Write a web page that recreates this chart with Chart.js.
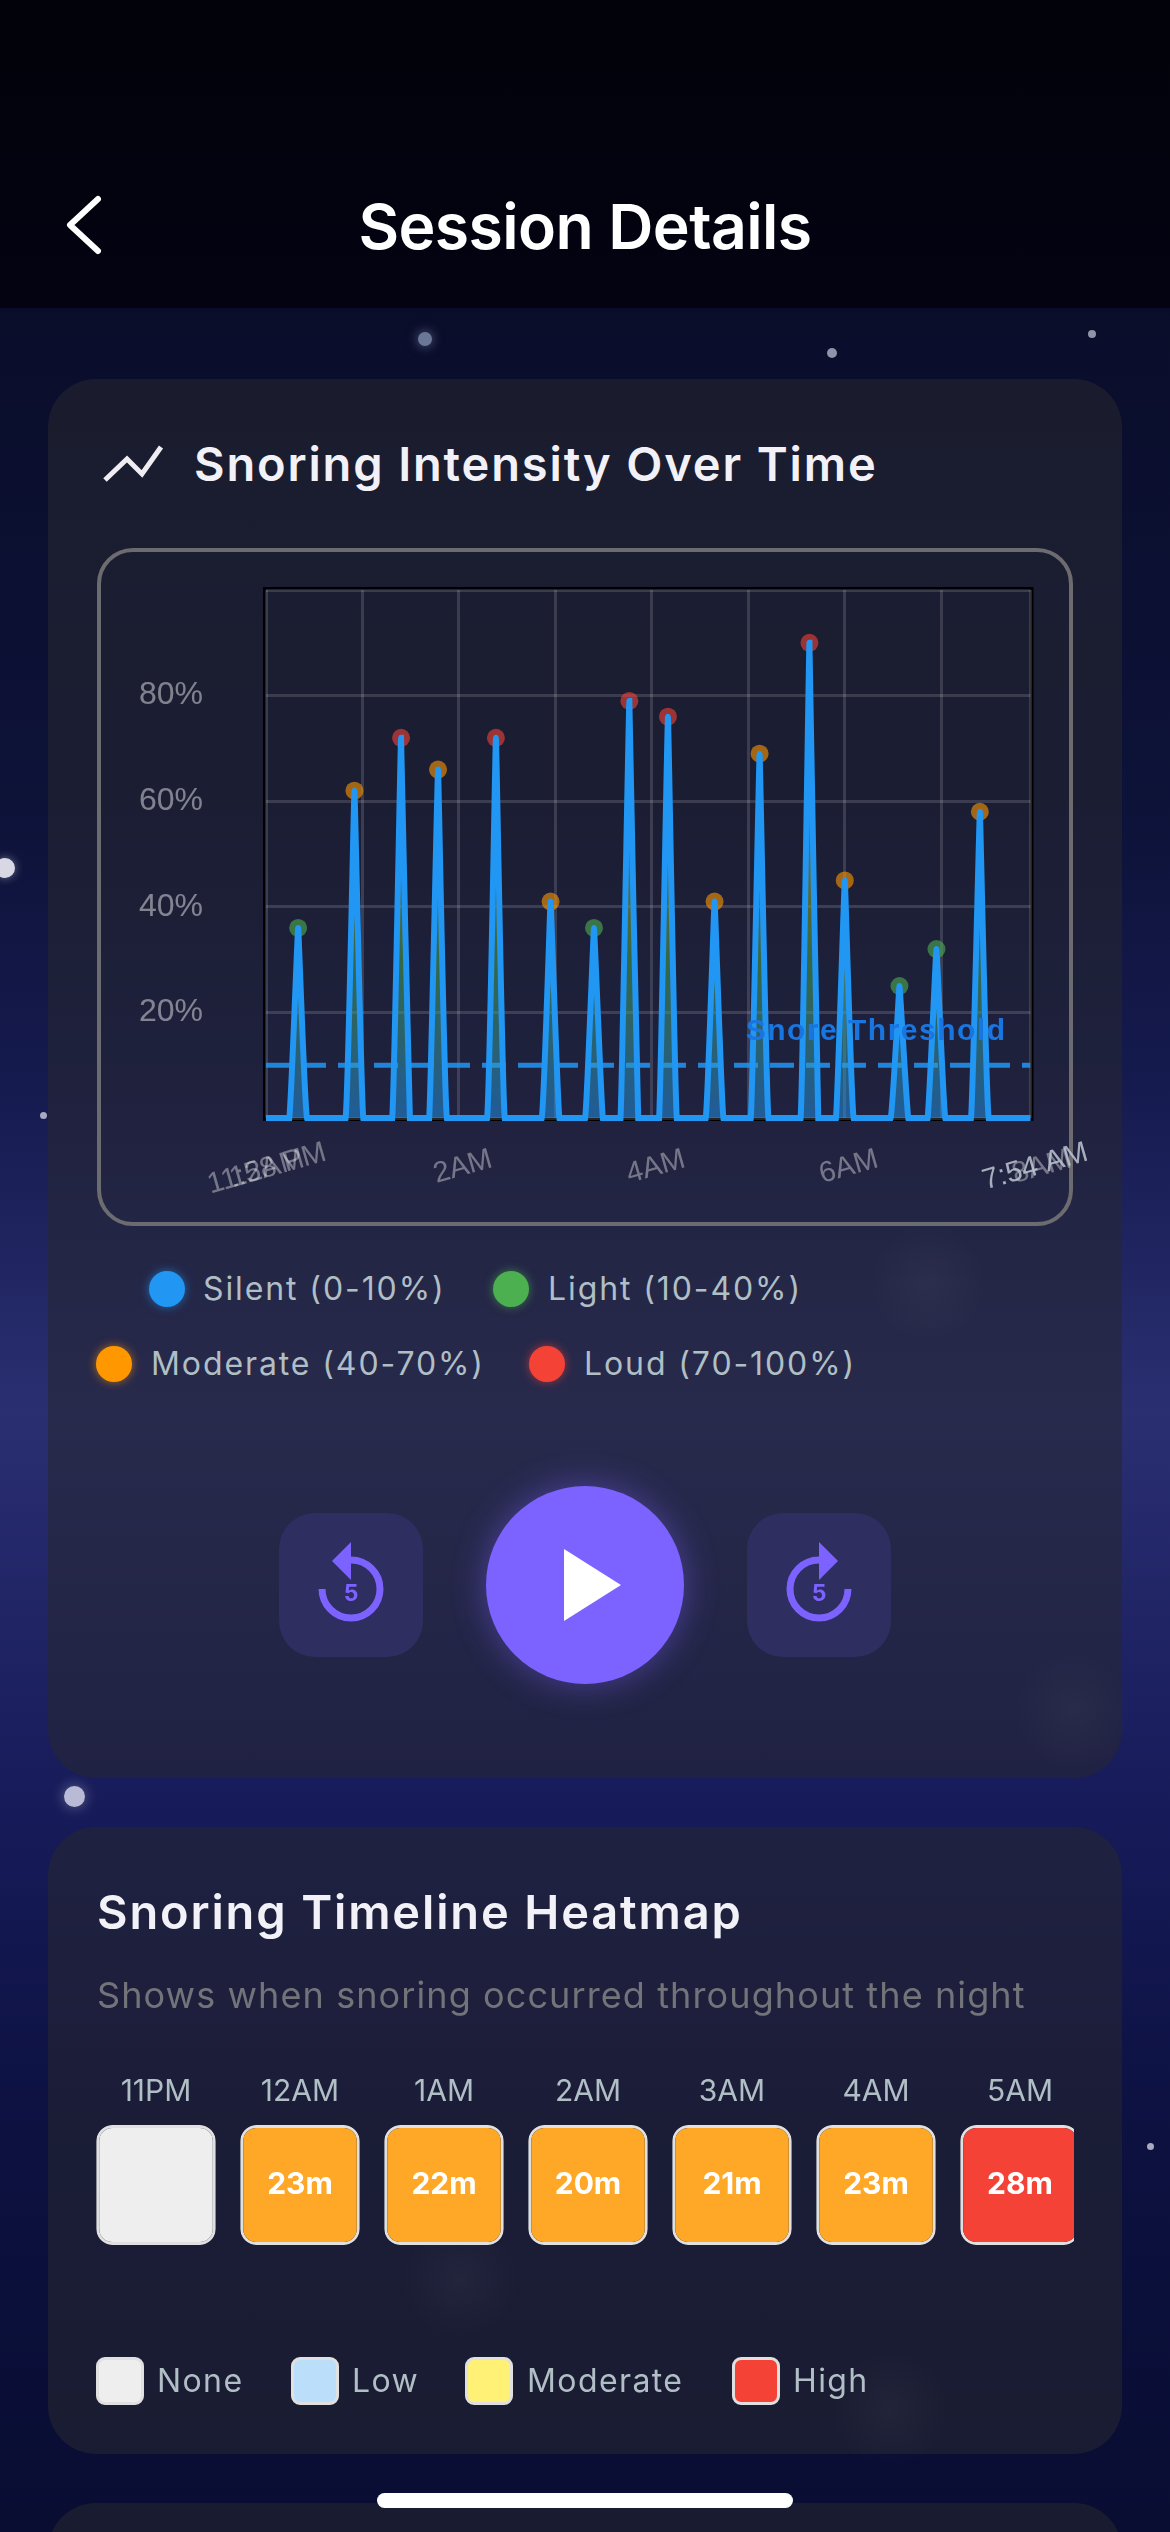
<!DOCTYPE html>
<html>
<head>
<meta charset="utf-8">
<title>Session Details</title>
<script src="https://cdn.jsdelivr.net/npm/chart.js@4/dist/chart.umd.min.js"></script>
<style>
html, body { margin: 0; padding: 0; background: #090d32; }
#page {
    position: relative; width: 1170px; height: 2532px; overflow: hidden;
    font-family: Inter, "Noto Sans", sans-serif; color: #fff;
    background: linear-gradient(180deg, #0a0d2a 308px, #0d1238 800px, #161b50 1100px, #2a2f72 1412px, #171b5a 1800px, #0c1140 2134px, #090d32 2532px);
}
#page > * { position: absolute; }
.header { left: 0; top: 0; width: 1170px; height: 308px; background: linear-gradient(180deg, #02020a, #030312); }
.title { left: 0; width: 1170px; top: 190px; text-align: center; font-size: 62.5px; line-height: 72px; font-weight: 600; letter-spacing: -0.6px; }
.star { border-radius: 50%; }
.blob { width: 120px; height: 120px; border-radius: 50%; background: radial-gradient(circle, rgba(255,255,255,.035), rgba(255,255,255,0) 70%); }
.card { left: 48px; width: 1074px; border-radius: 48px; background: rgba(40, 40, 48, 0.56); }
.frame { left: 97px; top: 548px; width: 968px; height: 670px; border: 4px solid #6c6c70; border-radius: 36px; }
.h2 { font-size: 47px; line-height: 56px; font-weight: 600; color: #f1f1f7; white-space: nowrap; letter-spacing: 1.85px; }
.sub { left: 97px; top: 1972px; font-size: 36px; line-height: 46px; color: #73737a; white-space: nowrap; letter-spacing: 1.1px; }
.lg { font-size: 32px; line-height: 40px; color: #b0bec5; white-space: nowrap; letter-spacing: 1.9px; }
.lg2 { letter-spacing: 1.4px; }
.dot { width: 36px; height: 36px; border-radius: 50%; }
.sw { width: 42px; height: 42px; border: 3px solid #e0e0e0; border-radius: 9px; }
.skip { top: 1513px; width: 144px; height: 144px; border-radius: 36px; background: #2f2e60; }
.play { left: 486px; top: 1486px; width: 198px; height: 198px; border-radius: 50%; background: #7c63ff; box-shadow: 0 0 34px rgba(124, 99, 255, 0.45); }
.home { left: 377px; top: 2493px; width: 416px; height: 15px; border-radius: 8px; background: #fff; }
</style>
</head>
<body>
<div id="page">
    <div class="star" style="left:418px;top:332px;width:14px;height:14px;background:#6b7797;box-shadow:0 0 12px rgba(150,165,210,.6)"></div>
    <div class="star" style="left:827px;top:348px;width:10px;height:10px;background:#8f94a8"></div>
    <div class="star" style="left:1088px;top:330px;width:8px;height:8px;background:#8f94a8"></div>
    <div class="star" style="left:-5px;top:858px;width:20px;height:20px;background:#d8d8e4;box-shadow:0 0 10px rgba(255,255,255,.4)"></div>
    <div class="star" style="left:40px;top:1112px;width:7px;height:7px;background:#a8aac0"></div>
    <div class="star" style="left:64px;top:1786px;width:21px;height:21px;background:#b9bbd6;box-shadow:0 0 14px rgba(255,255,255,.35)"></div>
    <div class="star" style="left:1147px;top:2143px;width:7px;height:7px;background:#a8aac0"></div>

    <div class="header"></div>
    <div class="title">Session Details</div>

    <div class="card" style="top:379px;height:1399px"></div>
    <div class="card" style="top:1827px;height:627px"></div>
    <div class="card" style="top:2503px;height:200px"></div>

    <div class="blob" style="left:868px;top:1223px"></div>
    <div class="blob" style="left:1013px;top:1651px"></div>
    <div class="blob" style="left:400px;top:2220px"></div>
    <div class="blob" style="left:830px;top:2350px"></div>

    <div class="h2" style="left:194px;top:436px">Snoring Intensity Over Time</div>
    <div class="frame"></div>
    <canvas id="intensityChart" width="1050" height="676" style="left:60px;top:549px"></canvas>

    <div class="dot" style="left:149px;top:1271px;background:#2196f3;box-shadow:0 0 10px rgba(33,150,243,.6)"></div>
    <div class="lg" style="left:203px;top:1269px">Silent (0-10%)</div>
    <div class="dot" style="left:493px;top:1271px;background:#4caf50;box-shadow:0 0 10px rgba(76,175,80,.6)"></div>
    <div class="lg" style="left:548px;top:1269px">Light (10-40%)</div>
    <div class="dot" style="left:96px;top:1346px;background:#ff9800;box-shadow:0 0 10px rgba(255,152,0,.6)"></div>
    <div class="lg" style="left:151px;top:1344px">Moderate (40-70%)</div>
    <div class="dot" style="left:529px;top:1346px;background:#f44336;box-shadow:0 0 10px rgba(244,67,54,.6)"></div>
    <div class="lg" style="left:584px;top:1344px">Loud (70-100%)</div>

    <div class="skip" style="left:279px"></div>
    <div class="skip" style="left:747px"></div>
    <div class="play"></div>

    <svg width="1170" height="2532" style="left:0;top:0">
        <path d="M98 199 L70 225 L98 251" fill="none" stroke="#fff" stroke-width="6" stroke-linecap="round" stroke-linejoin="round"/>
        <polyline points="105,480 127,459 142,474 161,447" fill="none" stroke="#eeeef2" stroke-width="5"/>
        <polygon points="564,1549 621,1585 564,1621" fill="#fff"/>
        <path d="M322 1589 A29 29 0 1 0 351 1560" fill="none" stroke="#7c63ff" stroke-width="7"/>
        <polygon points="351,1542 332,1561 351,1580" fill="#7c63ff"/>
        <text x="351" y="1601" text-anchor="middle" font-size="23" font-weight="700" fill="#7c63ff">5</text>
        <path d="M848 1589 A29 29 0 1 1 819 1560" fill="none" stroke="#7c63ff" stroke-width="7"/>
        <polygon points="819,1542 838,1561 819,1580" fill="#7c63ff"/>
        <text x="819" y="1601" text-anchor="middle" font-size="23" font-weight="700" fill="#7c63ff">5</text>
    </svg>

    <div class="h2" style="left:97px;top:1884px">Snoring Timeline Heatmap</div>
    <div class="sub">Shows when snoring occurred throughout the night</div>
    <div style="left:96px;top:2070px;width:978px;height:180px;overflow:hidden">
        <canvas id="heatChart" width="1008" height="180" style="position:absolute;left:-12px;top:0"></canvas>
    </div>

    <div class="sw" style="left:96px;top:2357px;background:#eeeeee"></div>
    <div class="lg lg2" style="left:157px;top:2361px">None</div>
    <div class="sw" style="left:291px;top:2357px;background:#bbdefb"></div>
    <div class="lg lg2" style="left:352px;top:2361px">Low</div>
    <div class="sw" style="left:465px;top:2357px;background:#fff176"></div>
    <div class="lg lg2" style="left:527px;top:2361px">Moderate</div>
    <div class="sw" style="left:732px;top:2357px;background:#f44336"></div>
    <div class="lg lg2" style="left:793px;top:2361px">High</div>

    <div class="home"></div>
</div>

<script>
// minutes after midnight
const peakMinutes = [20, 55, 84, 107, 143, 177, 204, 226, 250, 279, 307, 338, 360, 394, 417, 444];
const peakValues = [36, 62, 72, 66, 72, 41, 36, 79, 76, 41, 69, 90, 45, 25, 32, 58];
const silentLevel = 0;
const thresholdLevel = 10;
const startMinute = 0;
const endMinute = 475.5;
const spikeHalfWidth = 5.5;
const xTickMinutes = [0, 0, 120, 240, 360, 480, 476];
const xTickLabels = ['11:58 PM', '12AM', '2AM', '4AM', '6AM', '8AM', '7:54 AM'];
const yTickLabels = { 20: '20%', 40: '40%', 60: '60%', 80: '80%' };

const heatHours = ['11PM', '12AM', '1AM', '2AM', '3AM', '4AM', '5AM'];
const heatMinutes = [0, 23, 22, 20, 21, 23, 28];

function levelColor(v) {
    if (v < 40) return 'rgba(76,175,80,0.6)';
    if (v < 70) return 'rgba(255,152,0,0.6)';
    return 'rgba(244,67,54,0.6)';
}

function heatColor(m) {
    if (m === 0) return '#eeeeee';
    return m < 25 ? '#ffa726' : '#f44336';
}

const linePoints = [{ x: startMinute, y: silentLevel }];
peakMinutes.forEach((m, i) => {
    linePoints.push({ x: m - spikeHalfWidth, y: silentLevel }, { x: m, y: peakValues[i] }, { x: m + spikeHalfWidth, y: silentLevel });
});
linePoints.push({ x: endMinute, y: silentLevel });

const plotDecor = {
    id: 'plotDecor',
    afterDatasetsDraw(chart) {
        const { ctx, chartArea: a, scales: { x, y } } = chart;
        ctx.save();
        // black frame round the plot, kept behind the marks
        ctx.strokeStyle = '#000';
        ctx.lineWidth = 3;
        ctx.globalCompositeOperation = 'destination-over';
        ctx.strokeRect(a.left - 1.5, a.top - 1.5, a.right - a.left + 3, a.bottom - a.top + 3);
        ctx.globalCompositeOperation = 'source-over';

        ctx.font = 'bold 30px "Liberation Sans"';
        ctx.letterSpacing = '1.5px';
        ctx.fillStyle = 'rgba(25,118,225,1)';
        ctx.textAlign = 'right';
        ctx.fillText('Snore Threshold', a.right - 24, y.getPixelForValue(thresholdLevel) - 25);
        ctx.letterSpacing = '0px';

        // slanted time labels, centred on their tick
        ctx.font = '29px "Liberation Sans"';
        ctx.textAlign = 'center';
        ctx.textBaseline = 'middle';
        xTickLabels.forEach((label, i) => {
            ctx.save();
            ctx.translate(x.getPixelForValue(xTickMinutes[i]) + (i < 2 ? 1 : 4), a.bottom + (i < 2 ? 51 : 49));
            ctx.rotate(-16 * Math.PI / 180);
            ctx.fillStyle = i === xTickLabels.length - 1 ? 'rgba(190,200,210,0.85)' : 'rgba(255,255,255,0.38)';
            ctx.fillText(label, 0, 0);
            ctx.restore();
        });
        ctx.restore();
    }
};

new Chart(document.getElementById('intensityChart'), {
    type: 'scatter',
    data: {
        datasets: [
            {
                label: 'Intensity',
                showLine: true,
                data: linePoints,
                order: 1,
                clip: false,
                borderColor: '#2196f3',
                borderWidth: 6,
                tension: 0.06,
                pointRadius: 0,
                fill: 'origin',
                backgroundColor(c) {
                    const a = c.chart.chartArea;
                    if (!a) return 'transparent';
                    const g = c.chart.ctx.createLinearGradient(0, a.bottom, 0, a.top);
                    g.addColorStop(0, 'rgba(33,150,243,0.5)');
                    g.addColorStop(0.3, 'rgba(76,175,80,0.5)');
                    g.addColorStop(0.65, 'rgba(255,152,0,0.6)');
                    g.addColorStop(1, 'rgba(244,67,54,0.6)');
                    return g;
                }
            },
            {
                label: 'Peaks',
                data: peakMinutes.map((m, i) => ({ x: m, y: peakValues[i] })),
                order: 2,
                pointRadius: 9,
                pointBorderWidth: 0,
                pointBackgroundColor: peakValues.map(levelColor)
            },
            {
                label: 'Threshold',
                showLine: true,
                data: [{ x: startMinute, y: thresholdLevel }, { x: endMinute, y: thresholdLevel }],
                order: 3,
                borderColor: 'rgba(33,150,243,0.85)',
                borderWidth: 5,
                borderDash: [24, 12],
                pointRadius: 0
            }
        ]
    },
    options: {
        responsive: false,
        animation: false,
        layout: { padding: { left: 0, right: 79.5, top: 41, bottom: 107 } },
        plugins: { legend: { display: false }, tooltip: { enabled: false } },
        scales: {
            x: {
                type: 'linear',
                min: startMinute,
                max: endMinute,
                afterFit(s) { s.height = 0; },
                border: { display: false },
                grid: { color: 'rgba(255,255,255,0.14)', lineWidth: 3, drawTicks: false },
                ticks: { display: false, stepSize: 60 }
            },
            y: {
                min: 0,
                max: 100,
                afterFit(s) { s.width = 206; },
                border: { display: false },
                // the long invisible tick mark holds the labels away from the plot
                grid: { color: 'rgba(255,255,255,0.14)', lineWidth: 3, tickLength: 63, tickColor: 'transparent' },
                ticks: {
                    stepSize: 20,
                    padding: 0,
                    color: 'rgba(255,255,255,0.45)',
                    font: { family: 'Liberation Sans', size: 32 },
                    callback: v => yTickLabels[v] || ''
                }
            }
        }
    },
    plugins: [plotDecor]
});

const heatText = {
    id: 'heatText',
    afterDatasetsDraw(chart) {
        const { ctx, scales: { x, y } } = chart;
        ctx.save();
        ctx.font = '700 30px Inter';
        ctx.fillStyle = '#fff';
        ctx.textAlign = 'center';
        ctx.textBaseline = 'middle';
        heatMinutes.forEach((m, i) => {
            if (m > 0) ctx.fillText(m + 'm', x.getPixelForValue(i), y.getPixelForValue(0.5));
        });
        ctx.restore();
    }
};

new Chart(document.getElementById('heatChart'), {
    type: 'bar',
    data: {
        labels: heatHours,
        datasets: [{
            data: heatHours.map(() => 1),
            backgroundColor: heatMinutes.map(heatColor),
            borderColor: '#e0e0e0',
            borderWidth: 3,
            borderRadius: 16,
            borderSkipped: false,
            barPercentage: 0.83,
            categoryPercentage: 1
        }]
    },
    options: {
        responsive: false,
        animation: false,
        layout: { padding: { bottom: 5 } },
        plugins: { legend: { display: false }, tooltip: { enabled: false } },
        scales: {
            x: {
                position: 'top',
                afterFit(s) { s.height = 55; },
                border: { display: false },
                grid: { display: false },
                ticks: { padding: 7, color: '#b0bec5', font: { family: 'Inter', size: 30 }, maxRotation: 0 }
            },
            y: { display: false, min: 0, max: 1 }
        }
    },
    plugins: [heatText]
});
</script>
</body>
</html>
